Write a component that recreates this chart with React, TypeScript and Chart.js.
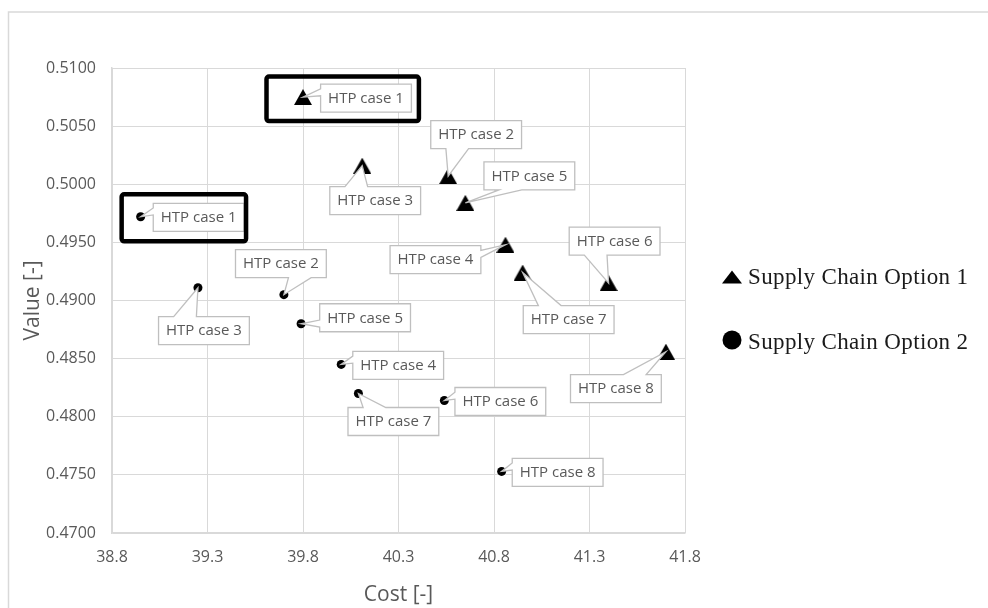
import React, { useEffect, useRef } from 'react';
import { Chart, registerables } from 'chart.js';

Chart.register(...registerables);

// ---------------- data ----------------
const caseLabels = ['HTP case 1', 'HTP case 2', 'HTP case 3', 'HTP case 4', 'HTP case 5', 'HTP case 6', 'HTP case 7', 'HTP case 8'];
const seriesNames = ['Supply Chain Option 1', 'Supply Chain Option 2'];
const option1Cost = [39.80, 40.56, 40.11, 40.86, 40.65, 41.40, 40.95, 41.70];
const option1Value = [0.5075, 0.5007, 0.5016, 0.4948, 0.4984, 0.4915, 0.4924, 0.4856];
const option2Cost = [38.95, 39.70, 39.25, 40.00, 39.79, 40.54, 40.09, 40.84];
const option2Value = [0.4972, 0.4905, 0.4911, 0.4845, 0.4880, 0.4814, 0.4820, 0.4753];
const xTickValues = [38.8, 39.3, 39.8, 40.3, 40.8, 41.3, 41.8];
const yTickValues = [0.47, 0.475, 0.48, 0.485, 0.49, 0.495, 0.5, 0.505, 0.51];
const xTitle = 'Cost [-]';
const yTitle = 'Value [-]';
const highlightedCases = [
  { dataset: 0, index: 0 },
  { dataset: 1, index: 0 },
];

// ---------------- layout / style ----------------
const W = 988;
const H = 608;
const GREY_TEXT = '#595959';
const GRID = '#d9d9d9';
const LABEL_FONT = '15px "Open Sans"';
const LABEL_PAD_X = 7.5;
const LABEL_H = 28;
// callout label centre offsets (px) from each point
const labelOffsets = [
  [[63, 1], [28, -41.5], [13, 35], [-70, 15], [64, -27], [6, -42], [46, 47], [-50, 37]],
  [[58, 0.5], [-3, -31], [6, 43], [57, 1], [64, -6], [56, 1], [35, 28], [56, 1]],
];
// highlight frame padding [left, top, right, bottom] around marker+label
const highlightPads = [
  [27.5, 7.5, 7.5, 9],
  [14.5, 9, 2, 10],
];

function makeTriangle(w: number, h: number) {
  const c = document.createElement('canvas');
  c.width = w;
  c.height = h;
  const g = c.getContext('2d')!;
  g.fillStyle = '#000';
  g.beginPath();
  g.moveTo(w / 2, 0);
  g.lineTo(w, h);
  g.lineTo(0, h);
  g.closePath();
  g.fill();
  return c;
}

function drawCallout(ctx: CanvasRenderingContext2D, l: number, t: number, r: number, b: number, px: number, py: number) {
  const w = r - l, h = b - t;
  const cx = (l + r) / 2, cy = (t + b) / 2;
  const dx = px - cx, dy = py - cy;
  const dz = Math.abs(dy) - (Math.abs(dx) * h) / w;
  const x1 = l + (w * (dx > 0 ? 7 : 2)) / 12;
  const x2 = l + (w * (dx > 0 ? 10 : 5)) / 12;
  const y1 = t + (h * (dy > 0 ? 7 : 2)) / 12;
  const y2 = t + (h * (dy > 0 ? 10 : 5)) / 12;
  const pts: number[][] = [];
  pts.push([l, t]);
  if (dz > 0 && dy < 0) pts.push([x1, t], [px, py], [x2, t]);
  pts.push([r, t]);
  if (dz <= 0 && dx > 0) pts.push([r, y1], [px, py], [r, y2]);
  pts.push([r, b]);
  if (dz > 0 && dy > 0) pts.push([x2, b], [px, py], [x1, b]);
  pts.push([l, b]);
  if (dz <= 0 && dx < 0) pts.push([l, y2], [px, py], [l, y1]);
  ctx.beginPath();
  ctx.moveTo(pts[0][0], pts[0][1]);
  for (let i = 1; i < pts.length; i++) ctx.lineTo(pts[i][0], pts[i][1]);
  ctx.closePath();
  ctx.fillStyle = '#ffffff';
  ctx.fill();
  ctx.lineWidth = 1.3;
  ctx.strokeStyle = '#bfbfbf';
  ctx.stroke();
}

function roundRect(ctx: CanvasRenderingContext2D, l: number, t: number, r: number, b: number, rad: number) {
  ctx.beginPath();
  ctx.moveTo(l + rad, t);
  ctx.lineTo(r - rad, t);
  ctx.arcTo(r, t, r, t + rad, rad);
  ctx.lineTo(r, b - rad);
  ctx.arcTo(r, b, r - rad, b, rad);
  ctx.lineTo(l + rad, b);
  ctx.arcTo(l, b, l, b - rad, rad);
  ctx.lineTo(l, t + rad);
  ctx.arcTo(l, t, l + rad, t, rad);
  ctx.closePath();
}

const overlayPlugin = {
  id: 'overlay',
  beforeDraw(chart: any) {
    const ctx = chart.ctx as CanvasRenderingContext2D;
    ctx.save();
    ctx.fillStyle = '#fff';
    ctx.fillRect(0, 0, W, H);
    ctx.strokeStyle = GRID;
    ctx.lineWidth = 1.5;
    ctx.beginPath();
    ctx.moveTo(8.5, H + 2);
    ctx.lineTo(8.5, 12);
    ctx.lineTo(W + 2, 12);
    ctx.stroke();
    ctx.restore();
  },
  afterDatasetsDraw(chart: any) {
    const ctx = chart.ctx as CanvasRenderingContext2D;
    ctx.save();
    ctx.font = LABEL_FONT;
    const boxes: number[][][] = [[], []];
    chart.data.datasets.forEach((_ds: any, di: number) => {
      const meta = chart.getDatasetMeta(di);
      const markerHalf = di === 0 ? [9, 8] : [4.5, 4.5];
      meta.data.forEach((el: any, i: number) => {
        const px = el.x, py = el.y;
        const text = caseLabels[i];
        ctx.font = LABEL_FONT;
        const tw = ctx.measureText(text).width;
        const w = tw + 2 * LABEL_PAD_X;
        const [ox, oy] = labelOffsets[di][i];
        const cx = px + ox, cy = py + oy;
        const l = cx - w / 2, t = cy - LABEL_H / 2, r = cx + w / 2, b = cy + LABEL_H / 2;
        drawCallout(ctx, l, t, r, b, px, py);
        ctx.fillStyle = GREY_TEXT;
        ctx.textAlign = 'center';
        ctx.textBaseline = 'middle';
        ctx.fillText(text, cx, cy + 0.5);
        boxes[di][i] = [
          Math.min(l, px - markerHalf[0]),
          Math.min(t, py - markerHalf[1]),
          Math.max(r, px + markerHalf[0]),
          Math.max(b, py + markerHalf[1]),
        ];
      });
    });
    // highlight frames
    highlightedCases.forEach((hc, k) => {
      const bx = boxes[hc.dataset][hc.index];
      if (!bx) return;
      const p = highlightPads[k];
      ctx.strokeStyle = '#000';
      ctx.lineWidth = 4.5;
      roundRect(ctx, bx[0] - p[0], bx[1] - p[1], bx[2] + p[2], bx[3] + p[3], 2.5);
      ctx.stroke();
    });
    // legend
    ctx.fillStyle = '#000';
    ctx.beginPath();
    ctx.moveTo(732, 270.5);
    ctx.lineTo(742, 283.5);
    ctx.lineTo(722, 283.5);
    ctx.closePath();
    ctx.fill();
    ctx.beginPath();
    ctx.arc(732, 340, 9.5, 0, Math.PI * 2);
    ctx.fill();
    ctx.font = '23px "Liberation Serif"';
    ctx.textAlign = 'left';
    ctx.textBaseline = 'alphabetic';
    const legendY = [283.5, 348.5];
    seriesNames.forEach((name, i) => {
      (ctx as any).letterSpacing = '0px';
      const nat = ctx.measureText(name).width;
      const sp = Math.max(0, (220 - nat) / (name.length - 1));
      (ctx as any).letterSpacing = sp + 'px';
      ctx.fillStyle = '#1a1a1a';
      ctx.fillText(name, 748, legendY[i]);
    });
    (ctx as any).letterSpacing = '0px';
    ctx.restore();
  },
};

export default function App() {
  const ref = useRef<HTMLCanvasElement | null>(null);
  useEffect(() => {
    if (!ref.current) return;
    const tri = makeTriangle(18, 16);
    const chart = new Chart(ref.current, {
      type: 'scatter',
      data: {
        datasets: [
          {
            label: seriesNames[0],
            data: option1Cost.map((c, i) => ({ x: c, y: option1Value[i] })),
            pointStyle: tri as any,
            pointRadius: 9,
            backgroundColor: '#000',
            borderColor: '#000',
            borderWidth: 0,
          },
          {
            label: seriesNames[1],
            data: option2Cost.map((c, i) => ({ x: c, y: option2Value[i] })),
            pointStyle: 'circle',
            pointRadius: 4.5,
            backgroundColor: '#000',
            borderColor: '#000',
            borderWidth: 0,
          },
        ],
      },
      options: {
        animation: false,
        responsive: false,
        maintainAspectRatio: false,
        layout: { padding: { left: 0, top: 68, right: 303, bottom: 0 } },
        plugins: { legend: { display: false }, tooltip: { enabled: false } },
        scales: {
          x: {
            type: 'linear',
            min: xTickValues[0],
            max: xTickValues[xTickValues.length - 1],
            afterBuildTicks: (s: any) => {
              s.ticks = xTickValues.map((v) => ({ value: v }));
            },
            afterFit: (s: any) => {
              s.height = 75;
            },
            grid: { color: GRID, lineWidth: 1, drawTicks: false },
            border: { color: GRID, width: 1.5 },
            ticks: {
              color: GREY_TEXT,
              font: { family: 'Open Sans', size: 16 },
              padding: 15,
              maxRotation: 0,
              autoSkip: false,
              callback: (v: any) => Number(v).toFixed(1),
            },
            title: {
              display: true,
              text: xTitle,
              color: GREY_TEXT,
              font: { family: 'Open Sans', size: 21 },
              padding: { top: 2.4, bottom: 0 },
            },
          },
          y: {
            type: 'linear',
            min: yTickValues[0],
            max: yTickValues[yTickValues.length - 1],
            afterBuildTicks: (s: any) => {
              s.ticks = yTickValues.map((v) => ({ value: v }));
            },
            afterFit: (s: any) => {
              s.width = 112;
            },
            grid: { color: GRID, lineWidth: 1, drawTicks: false },
            border: { color: GRID, width: 1.5 },
            ticks: {
              color: GREY_TEXT,
              font: { family: 'Open Sans', size: 16 },
              padding: 16,
              autoSkip: false,
              callback: (v: any) => Number(v).toFixed(4),
            },
            title: {
              display: true,
              text: yTitle,
              color: GREY_TEXT,
              font: { family: 'Open Sans', size: 21 },
              padding: { top: 20.4, bottom: 0 },
            },
          },
        },
      },
      plugins: [overlayPlugin],
    } as any);
    return () => chart.destroy();
  }, []);
  return (
    <div style={{ position: 'fixed', left: 0, top: 0, width: W, height: H, background: '#fff' }}>
      <canvas ref={ref} width={W} height={H} style={{ width: W, height: H, display: 'block' }} />
    </div>
  );
}
